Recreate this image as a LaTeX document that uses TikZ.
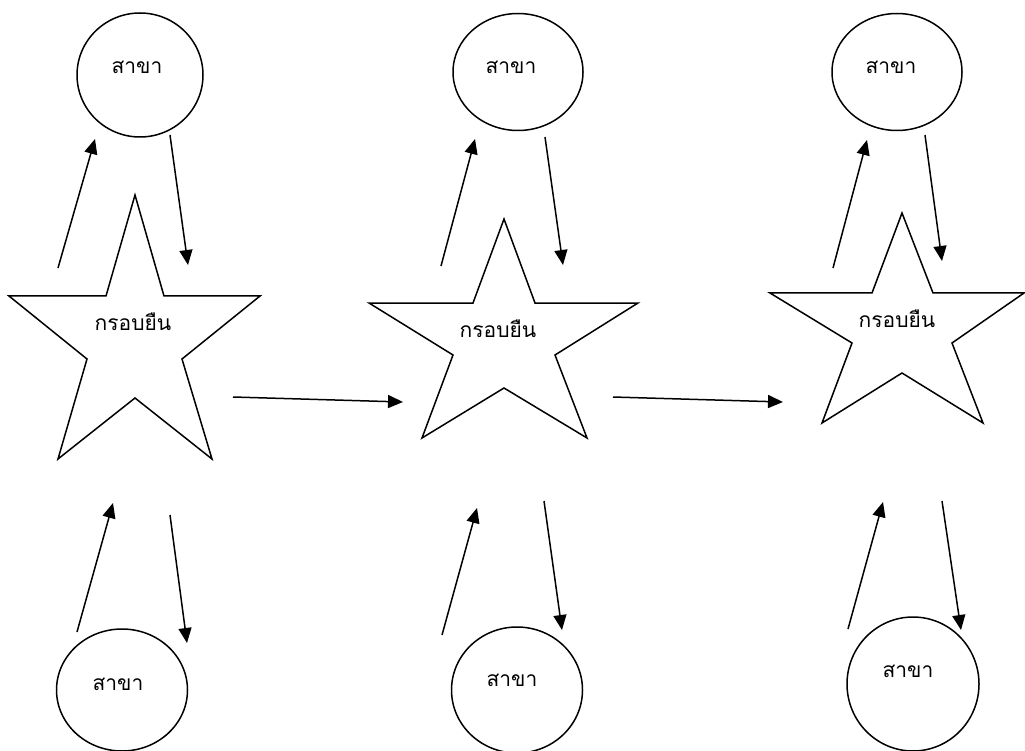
\documentclass[tikz,border=0pt]{standalone}
\usepackage{fontspec}
\newfontfamily\thaifont[Script=Thai]{Loma}
\usetikzlibrary{arrows.meta,shapes.geometric}
\begin{document}
\begin{tikzpicture}[x=1pt,y=-1pt,
  line width=1.5pt,
  branch/.style={draw,ellipse,inner sep=0pt},
  lbl/.style={inner sep=0pt,font=\thaifont\fontsize{21}{25}\selectfont},
  arr/.style={-{Triangle[length=15pt,width=13pt]}},
  starline/.style={line join=miter}]
\useasboundingbox (0,0) rectangle (1025,751);
% stars
\draw[starline] (135,195) -- (164,296) -- (260,296) -- (182,359) -- (212,459) -- (135,398)
  -- (58,459) -- (87,359) -- (9,296) -- (106,296) -- cycle;
\draw[starline] (504,219) -- (535,303) -- (638,303) -- (555,355) -- (587,438) -- (504,388)
  -- (422,438) -- (453,355) -- (369,303) -- (473,303) -- cycle;
\draw[starline] (902,213) -- (933,293) -- (1024,293) -- (952,343) -- (983,423) -- (902,373)
  -- (822,423) -- (852,343) -- (770,293) -- (872,293) -- cycle;
\node[lbl] (s1) at (133,322) {กรอบยืน};
\node[lbl] (s2) at (498,329) {กรอบยืน};
\node[lbl] (s3) at (897,319) {กรอบยืน};
% branches
\node[branch,minimum width=126pt,minimum height=124pt] (t1) at (140,75) {};
\node[branch,minimum width=130pt,minimum height=117pt] (t2) at (518,72) {};
\node[branch,minimum width=130pt,minimum height=117pt] (t3) at (897,72) {};
\node[branch,minimum width=131pt,minimum height=122pt] (b1) at (122,690) {};
\node[branch,minimum width=131pt,minimum height=126pt] (b2) at (517,690) {};
\node[branch,minimum width=132pt,minimum height=134pt] (b3) at (913,684) {};
\node[lbl] (lt1) at (137,67) {สาขา};
\node[lbl] (lt2) at (511,67) {สาขา};
\node[lbl] (lt3) at (891,67) {สาขา};
\node[lbl] (lb1) at (118,684) {สาขา};
\node[lbl] (lb2) at (512,680) {สาขา};
\node[lbl] (lb3) at (908,671) {สาขา};
% arrow end points
\coordinate (a1s) at (58,268); \coordinate (a1e) at (95,139);
\coordinate (a2s) at (170,135); \coordinate (a2e) at (188,265);
\coordinate (a3s) at (77,632); \coordinate (a3e) at (113,503);
\coordinate (a4s) at (170,515); \coordinate (a4e) at (187,643);
\coordinate (c1s) at (441,266); \coordinate (c1e) at (475,139);
\coordinate (c2s) at (545,137); \coordinate (c2e) at (563,265);
\coordinate (c3s) at (442,635); \coordinate (c3e) at (477,508);
\coordinate (c4s) at (544,501); \coordinate (c4e) at (562,630);
\coordinate (d1s) at (833,268); \coordinate (d1e) at (867,140);
\coordinate (d2s) at (925,135); \coordinate (d2e) at (942,261);
\coordinate (d3s) at (848,629); \coordinate (d3e) at (883,502);
\coordinate (d4s) at (942,501); \coordinate (d4e) at (961,630);
\coordinate (h1s) at (233,397); \coordinate (h1e) at (403,402);
\coordinate (h2s) at (613,397); \coordinate (h2e) at (783,402);
\foreach \p in {a1,a2,a3,a4,c1,c2,c3,c4,d1,d2,d3,d4,h1,h2}
  \draw[arr] (\p s) -- (\p e);
\end{tikzpicture}
\end{document}
